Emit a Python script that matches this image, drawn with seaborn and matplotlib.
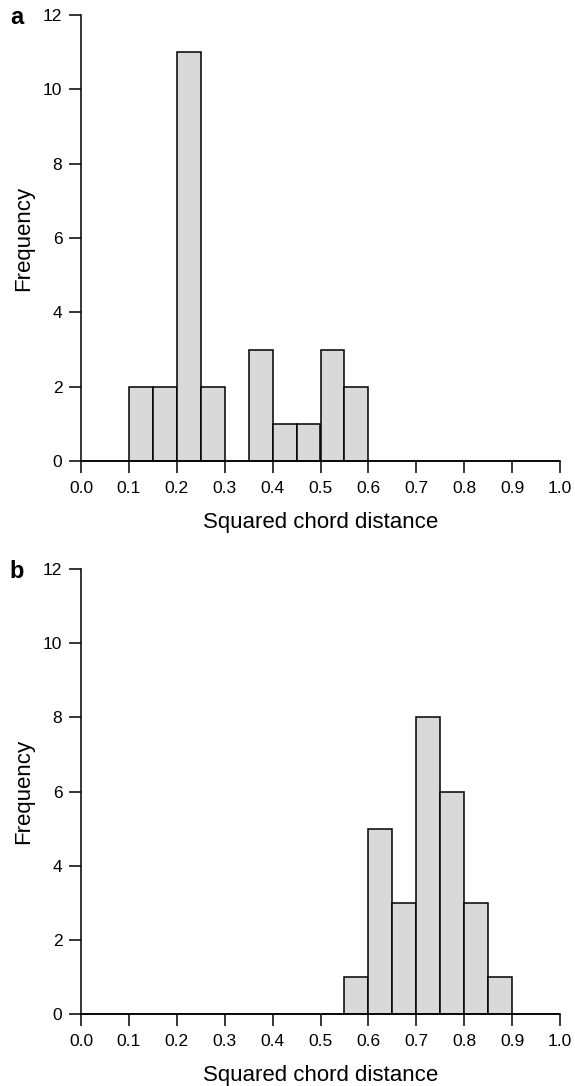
import numpy as np
import matplotlib
matplotlib.use("Agg")
import matplotlib.pyplot as plt
import seaborn as sns

sns.set_style("ticks")
plt.rcParams['font.family'] = ['Liberation Sans', 'DejaVu Sans']
plt.rcParams['text.color'] = 'black'
plt.rcParams['axes.labelcolor'] = 'black'

# Bin edges (width 0.05 from 0 to 1)
bin_edges = [round(0.05 * i, 2) for i in range(21)]
bin_centers = [round(0.025 + 0.05 * i, 3) for i in range(20)]

# Panel a counts per bin
counts_a = [0, 0, 2, 2, 11, 2, 0, 3, 1, 1, 3, 2, 0, 0, 0, 0, 0, 0, 0, 0]
# Panel b counts per bin
counts_b = [0, 0, 0, 0, 0, 0, 0, 0, 0, 0, 0, 1, 5, 3, 8, 6, 3, 1, 0, 0]

x_ticks = [round(0.1 * i, 1) for i in range(11)]
y_ticks = [0, 2, 4, 6, 8, 10, 12]
panel_labels = ["a", "b"]

fig = plt.figure(figsize=(5.75, 10.86), dpi=100)
W, H = 575, 1086
axes_px = [(81, 15, 560, 461), (81, 569, 560, 1014)]

for (x0, y0, x1, y1), counts, lab in zip(axes_px, [counts_a, counts_b], panel_labels):
    ax = fig.add_axes([x0 / W, 1 - y1 / H, (x1 - x0) / W, (y1 - y0) / H])
    sns.histplot(x=bin_centers, weights=counts, bins=bin_edges, ax=ax,
                 color="#d9d9d9", edgecolor="black", linewidth=1.1, alpha=1.0)
    for p in ax.patches:
        p.set_clip_on(False)
    ax.set_xlim(0, 1)
    ax.set_ylim(0, 12)
    ax.set_xticks(x_ticks)
    ax.set_xticklabels([f"{t:.1f}" for t in x_ticks])
    ax.set_yticks(y_ticks)
    ax.set_yticklabels([str(t) for t in y_ticks])
    sns.despine(ax=ax)
    ax.spines['left'].set_linewidth(1.1)
    ax.spines['bottom'].set_linewidth(1.1)
    ax.spines['left'].set_color('black')
    ax.spines['bottom'].set_color('black')
    ax.tick_params(axis='both', direction='out', length=8.5, width=1.1,
                   labelsize=12.5, color='black', labelcolor='black')
    ax.tick_params(axis='y', pad=5)
    ax.tick_params(axis='x', pad=6)
    ax.set_xlabel("Squared chord distance", fontsize=16, va='center', color='black')
    ax.set_ylabel("Frequency", fontsize=16, va='center', color='black')
    ax.xaxis.set_label_coords(0.5, -61.0 / (y1 - y0))
    ax.yaxis.set_label_coords((24 - x0) / (x1 - x0), 0.5)
    fig.text(17 / W, 1 - (y0 + 9.5) / H, lab, fontsize=17, fontweight='bold',
             ha='center', va='baseline', color='black')

fig.savefig("out.png", dpi=100)
